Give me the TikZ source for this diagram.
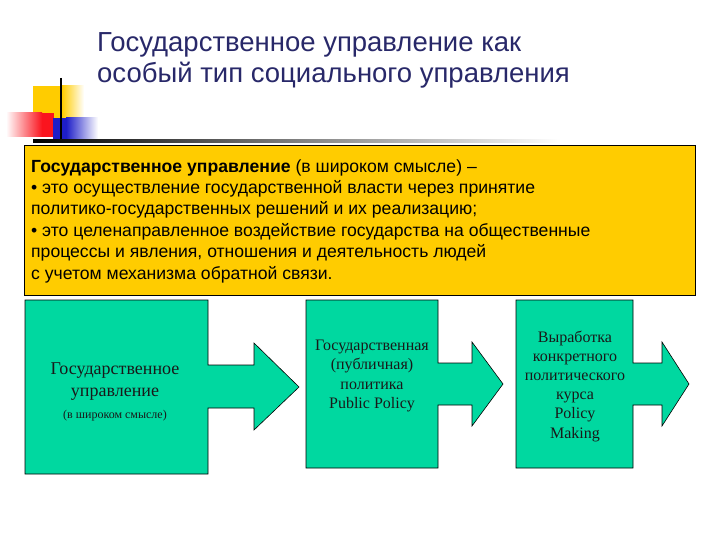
\documentclass[tikz,border=0pt]{standalone}
\usepackage{fontspec}
\setmainfont{Liberation Serif}
\setsansfont{Liberation Sans}
\usepackage{xcolor}
\definecolor{titleblue}{RGB}{40,40,105}
\definecolor{boxyellow}{RGB}{255,204,0}
\definecolor{stepgreen}{RGB}{0,216,160}
\definecolor{decoyellow}{RGB}{255,204,0}
\definecolor{decored}{RGB}{250,20,30}
\definecolor{decoblue}{RGB}{30,30,200}

\begin{document}
\begin{tikzpicture}[x=1pt, y=-1pt,
        stepshape/.style={draw=black, fill=stepgreen, line width=0.6pt},
        steptext/.style={align=center, inner sep=0pt, text=black!90, font=\fontsize{16}{19.2}\selectfont}]
        \useasboundingbox (0,0) rectangle (720,540);

        % decoration
        \fill[decoyellow] (33,86) rectangle (62,118);
        \shade[left color=decoyellow, right color=white] (62,86) rectangle (84,118);
        \shade[left color=white, right color=decored] (6,113) rectangle (42,137);
        \fill[decored] (42,113) rectangle (54,137);
        \fill[decoblue] (53,118) rectangle (66,142);
        \shade[left color=decoblue, right color=white] (66,118) rectangle (98,142);
        \draw[line width=2pt] (61,78) -- (61,142);
        \shade[left color=black, middle color=black!60, right color=white] (33,139.5) rectangle (560,142.5);

        % title
        \node[anchor=base west, align=left, inner sep=0pt, text=titleblue,
            font=\sffamily\fontsize{27.5}{31}\selectfont] (title) at (97,83)
            {Государственное управление как\\особый тип социального управления};

        % definition box
        \draw[fill=boxyellow, line width=0.8pt] (24,145) rectangle (695,295);
        \node[anchor=base west, align=left, inner sep=0pt,
            font=\sffamily\fontsize{17.6}{21.4}\selectfont] (def) at (31,279)
            {\textbf{Государственное управление} (в широком смысле) –\\
            • это осуществление государственной власти через принятие\\
            политико-государственных решений и их реализацию;\\
            • это целенаправленное воздействие государства на общественные\\
            процессы и явления, отношения и деятельность людей\\
            с учетом механизма обратной связи.};

        % steps
        \draw[stepshape] (25,300) -- (208,300) -- (208,365) -- (254,365) -- (254,343)
            -- (299,387) -- (254,430) -- (254,408) -- (208,408) -- (208,474)
            -- (25,474) -- cycle;
        \draw[stepshape] (306,300) -- (438,300) -- (438,363) -- (472,363) -- (472,342)
            -- (503,384) -- (472,426) -- (472,405) -- (438,405) -- (438,468)
            -- (306,468) -- cycle;
        \draw[stepshape] (516,300) -- (633,300) -- (633,363) -- (662,363) -- (662,342)
            -- (689,384) -- (662,426) -- (662,405) -- (633,405) -- (633,468)
            -- (516,468) -- cycle;

        \node[steptext, font=\fontsize{18}{22}\selectfont] (a) at (115,392) {Государственное\\управление\\
            {\fontsize{12}{13}\selectfont (в широком смысле)}};
        \node[steptext] (b) at (372,376) {Государственная\\(публичная)\\политика\\Public Policy};
        \node[steptext] (c) at (575,386) {Выработка\\конкретного\\политического\\курса\\Policy\\Making};
    \end{tikzpicture}
\end{document}
